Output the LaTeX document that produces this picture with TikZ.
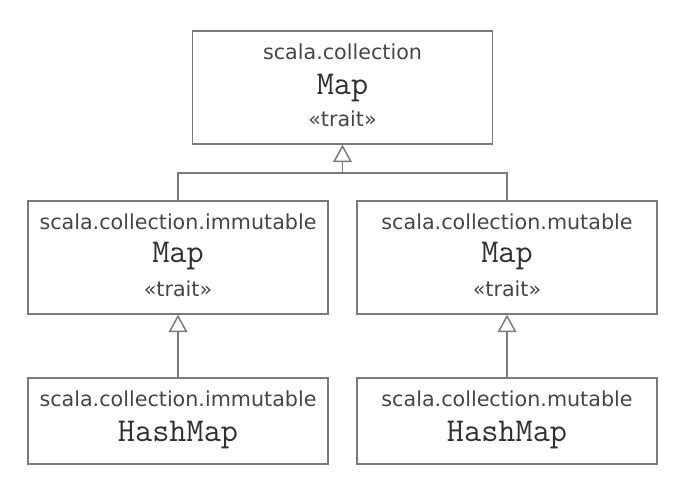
\documentclass[tikz,border=0pt]{standalone}
\usepackage{fontspec}
\setsansfont{DejaVu Sans}
\usetikzlibrary{arrows.meta,calc}
\definecolor{linegray}{HTML}{7A7A7A}
\definecolor{textgray}{HTML}{454545}
\begin{document}
\begin{tikzpicture}[x=0.75pt,y=-0.75pt,
  box/.style={draw=linegray,line width=1.1pt,rectangle,minimum width=225pt,inner sep=0pt},
  pkg/.style={anchor=base,text=textgray,font=\sffamily\fontsize{15.5}{17}\selectfont,inner sep=0pt},
  cls/.style={anchor=base,text=textgray!70!black,font=\ttfamily\fontsize{25}{27}\selectfont,inner sep=0pt},
  stereo/.style={anchor=base,text=textgray,font=\sffamily\fontsize{15.5}{17}\selectfont,inner sep=0pt},
  conn/.style={draw=linegray,line width=1.1pt},
  inh/.style={conn,-{Triangle[open,length=13pt,width=14pt,fill=white]}}]
\useasboundingbox (0,0) rectangle (689,498);
% boxes
\node[box,minimum height=84.75pt] (top) at (342.5,87.5) {};
\node[box,minimum height=84.75pt] (lm) at (178,257.5) {};
\node[box,minimum height=84.75pt] (rm) at (507,257.5) {};
\node[box,minimum height=64.5pt] (lb) at (178,421) {};
\node[box,minimum height=64.5pt] (rb) at (507,421) {};
% texts
\node[pkg] (t1) at ($(top.north)+(0,29)$) {scala.collection};
\node[cls] (t2) at ($(top.north)+(0,64)$) {Map};
\node[stereo] (t3) at ($(top.north)+(0,96)$) {«trait»};
\node[pkg] (l1) at ($(lm.north)+(0,29)$) {scala.collection.immutable};
\node[cls] (l2) at ($(lm.north)+(0,62)$) {Map};
\node[stereo] (l3) at ($(lm.north)+(0,96)$) {«trait»};
\node[pkg] (r1) at ($(rm.north)+(0,29)$) {scala.collection.mutable};
\node[cls] (r2) at ($(rm.north)+(0,62)$) {Map};
\node[stereo] (r3) at ($(rm.north)+(0,96)$) {«trait»};
\node[pkg] (lb1) at ($(lb.north)+(0,29)$) {scala.collection.immutable};
\node[cls] (lb2) at ($(lb.north)+(0,64)$) {HashMap};
\node[pkg] (rb1) at ($(rb.north)+(0,29)$) {scala.collection.mutable};
\node[cls] (rb2) at ($(rb.north)+(0,64)$) {HashMap};
% connectors
\coordinate (j) at (342.5,173);
\draw[conn] (lm.north) |- (j) -| (rm.north);
\draw[inh] (j) -- (top.south);
\draw[inh] (lb.north) -- (lm.south);
\draw[inh] (rb.north) -- (rm.south);
\end{tikzpicture}
\end{document}
